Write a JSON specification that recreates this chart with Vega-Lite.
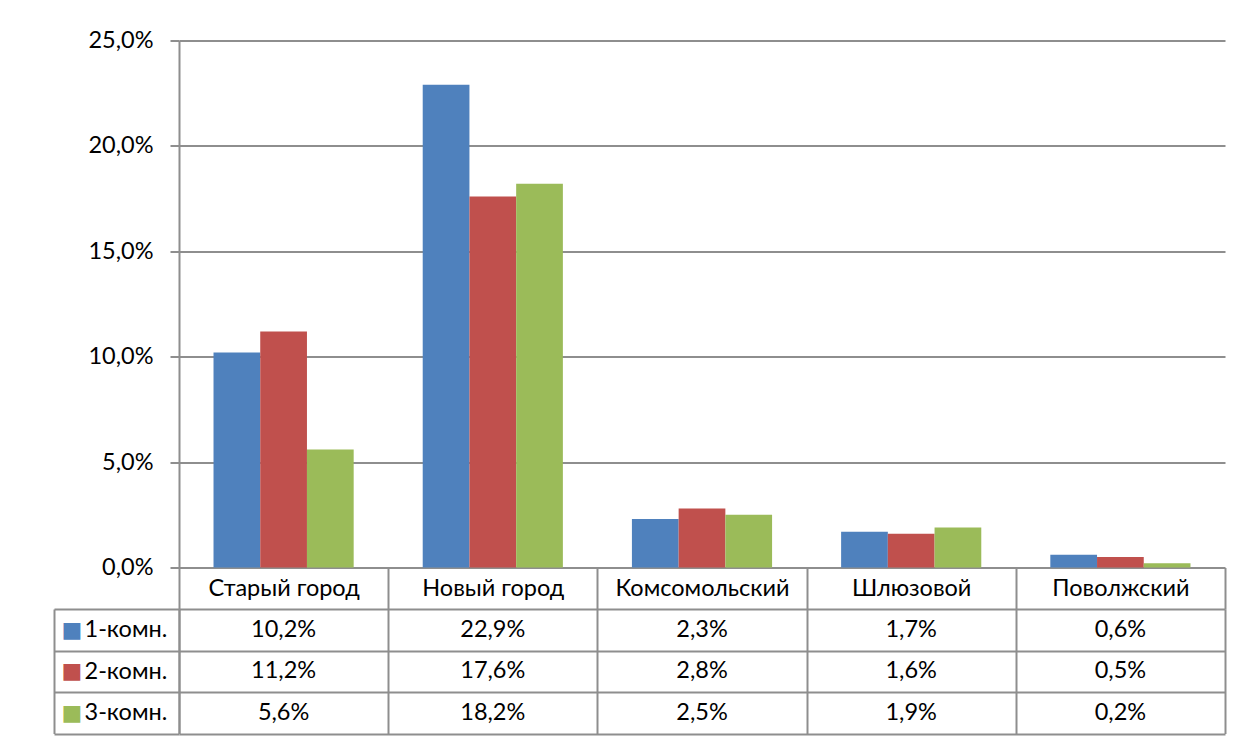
{
  "$schema": "https://vega.github.io/schema/vega-lite/v6.json",
  "padding": {"left": 53, "top": 28.5, "right": 5, "bottom": 0},
  "background": "white",
  "datasets": {
    "d": [
      {"cat": "Старый город", "series": "1-комн.", "value": 0.102},
      {"cat": "Старый город", "series": "2-комн.", "value": 0.112},
      {"cat": "Старый город", "series": "3-комн.", "value": 0.056},
      {"cat": "Новый город", "series": "1-комн.", "value": 0.229},
      {"cat": "Новый город", "series": "2-комн.", "value": 0.176},
      {"cat": "Новый город", "series": "3-комн.", "value": 0.182},
      {"cat": "Комсомольский", "series": "1-комн.", "value": 0.023},
      {"cat": "Комсомольский", "series": "2-комн.", "value": 0.028},
      {"cat": "Комсомольский", "series": "3-комн.", "value": 0.025},
      {"cat": "Шлюзовой", "series": "1-комн.", "value": 0.017},
      {"cat": "Шлюзовой", "series": "2-комн.", "value": 0.016},
      {"cat": "Шлюзовой", "series": "3-комн.", "value": 0.019},
      {"cat": "Поволжский", "series": "1-комн.", "value": 0.006},
      {"cat": "Поволжский", "series": "2-комн.", "value": 0.005},
      {"cat": "Поволжский", "series": "3-комн.", "value": 0.002}
    ]
  },
  "vconcat": [
    {
      "width": 1046,
      "height": 527,
      "data": {"name": "d"},
      "mark": {"type": "bar"},
      "encoding": {
        "x": {
          "field": "cat", "type": "nominal",
          "sort": ["Старый город", "Новый город", "Комсомольский", "Шлюзовой", "Поволжский"],
          "scale": {"paddingInner": 0.33, "paddingOuter": 0.165},
          "axis": null
        },
        "xOffset": {
          "field": "series", "type": "nominal",
          "sort": ["1-комн.", "2-комн.", "3-комн."],
          "scale": {"paddingInner": 0, "paddingOuter": 0}
        },
        "y": {
          "field": "value", "type": "quantitative",
          "scale": {"domain": [0, 0.25], "nice": false, "zero": true},
          "axis": {
            "values": [0, 0.05, 0.1, 0.15, 0.2, 0.25],
            "format": ".1%",
            "title": null,
            "grid": true,
            "gridColor": "#8e8e8e", "gridWidth": 2, "gridOpacity": 1,
            "domainColor": "#8e8e8e", "domainWidth": 2,
            "tickColor": "#8e8e8e", "tickWidth": 2, "tickSize": 9,
            "labelFont": "Lato", "labelFontSize": 23.5, "labelColor": "#000000",
            "labelPadding": 17
          }
        },
        "color": {
          "field": "series", "type": "nominal",
          "scale": {"domain": ["1-комн.", "2-комн.", "3-комн."], "range": ["#4F81BD", "#C0504D", "#9BBB59"]},
          "legend": null
        }
      }
    },
    {
      "width": 1046,
      "height": 124.5,
      "data": {"name": "d"},
      "layer": [
        {
          "mark": {"type": "text", "font": "Lato", "fontSize": 23.5, "color": "#000000"},
          "encoding": {
            "x": {
              "field": "cat", "type": "nominal",
              "sort": ["Старый город", "Новый город", "Комсомольский", "Шлюзовой", "Поволжский"],
              "scale": {"paddingInner": 0, "paddingOuter": 0},
              "axis": {
                "orient": "top", "title": null, "labelAngle": 0,
                "tickBand": "extent", "tickSize": 41.5, "tickColor": "#8e8e8e", "tickWidth": 2,
                "grid": true, "gridColor": "#8e8e8e", "gridWidth": 2, "gridOpacity": 1,
                "domain": false,
                "labelPadding": -20.75, "labelBaseline": "middle",
                "labelFont": "Lato", "labelFontSize": 23.5, "labelColor": "#000000", "labelLimit": 400
              }
            },
            "y": {
              "field": "series", "type": "nominal",
              "sort": ["1-комн.", "2-комн.", "3-комн."],
              "scale": {"paddingInner": 0, "paddingOuter": 0},
              "axis": {
                "orient": "left", "title": null,
                "tickBand": "extent", "tickSize": 125, "tickColor": "#8e8e8e", "tickWidth": 2,
                "grid": true, "gridColor": "#8e8e8e", "gridWidth": 2, "gridOpacity": 1,
                "domain": true, "domainColor": "#8e8e8e", "domainWidth": 2,
                "labelAlign": "left", "labelBaseline": "middle", "labelPadding": -30,
                "labelFont": "Lato", "labelFontSize": 23.5, "labelColor": "#000000"
              }
            },
            "text": {"field": "value", "type": "quantitative", "format": ".1%"}
          }
        },
        {
          "mark": {"type": "text", "opacity": 0},
          "encoding": {
            "y": {
              "field": "series", "type": "nominal",
              "sort": ["1-комн.", "2-комн.", "3-комн."],
              "axis": {
                "orient": "left", "title": null, "offset": 125,
                "domain": true, "domainColor": "#8e8e8e", "domainWidth": 2,
                "ticks": false, "tickSize": 0, "labels": false, "grid": false
              }
            },
            "text": {"field": "series", "type": "nominal"}
          }
        },
        {
          "mark": {"type": "text", "opacity": 0},
          "encoding": {
            "y": {
              "field": "series", "type": "nominal",
              "sort": ["1-комн.", "2-комн.", "3-комн."],
              "axis": {
                "orient": "left", "title": null,
                "domain": false, "ticks": false, "tickSize": 0, "grid": false,
                "labelExpr": "'■'", "labelAlign": "center", "labelBaseline": "middle",
                "labelPadding": 107.5, "labelFont": "DejaVu Sans", "labelFontSize": 22,
                "labelColor": {
                  "condition": [
                    {"test": "datum.value === '1-комн.'", "value": "#4F81BD"},
                    {"test": "datum.value === '2-комн.'", "value": "#C0504D"}
                  ],
                  "value": "#9BBB59"
                }
              }
            },
            "text": {"field": "series", "type": "nominal"}
          }
        }
      ],
      "resolve": {"axis": {"y": "independent"}}
    }
  ],
  "spacing": 41.5,
  "bounds": "flush",
  "resolve": {"scale": {"x": "independent", "y": "independent"}},
  "config": {
    "view": {"stroke": null},
    "locale": {"number": {"decimal": ",", "thousands": " ", "grouping": [3], "currency": ["", ""]}},
    "text": {"font": "Lato"}
  }
}
